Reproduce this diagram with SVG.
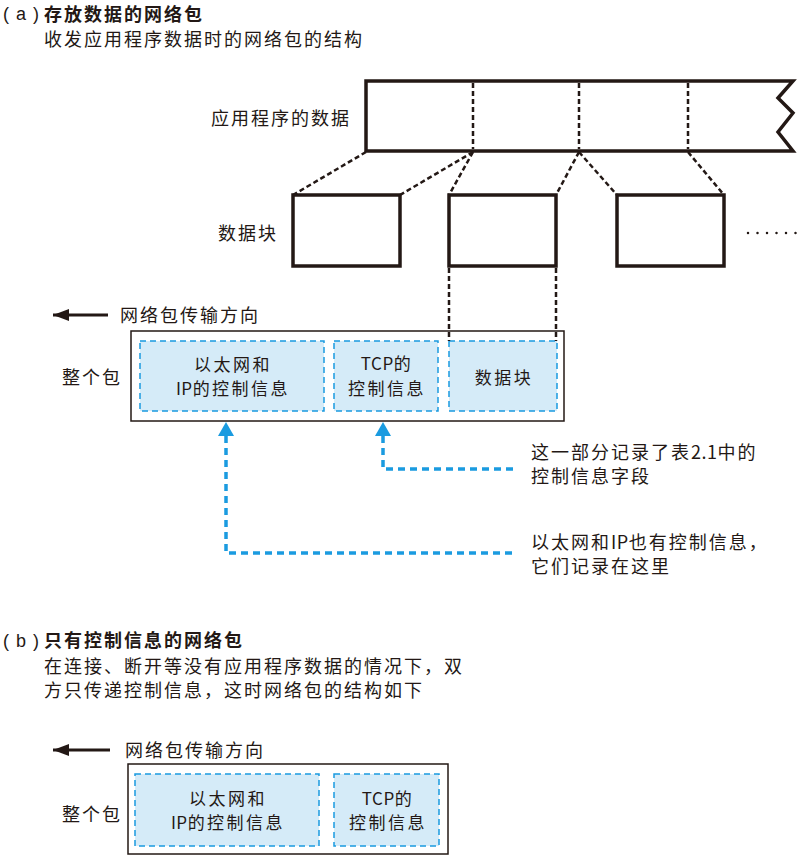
<svg xmlns="http://www.w3.org/2000/svg" width="800" height="856" viewBox="0 0 800 856">
<defs>
<style>
text{font-family:"Noto Sans CJK SC","Noto Sans",sans-serif;fill:#231815;font-size:18px;letter-spacing:2px}
.b{font-weight:bold}
.p{font-family:"Liberation Sans",Arial,sans-serif;letter-spacing:0}
.box{fill:#fff;stroke:#231815;stroke-width:3.5}
.bdash{fill:none;stroke:#231815;stroke-width:2.5;stroke-dasharray:5 3}
.pkt{fill:#fff;stroke:#231815;stroke-width:1.5}
.field{fill:#d5ebf8;stroke:#1a9be0;stroke-width:1.5;stroke-dasharray:6 4}
.blue{fill:none;stroke:#1a9be0;stroke-width:3.5;stroke-dasharray:7 5}
.bt{font-size:17px;letter-spacing:2.5px}
.c{text-anchor:middle}
.l{letter-spacing:0.5px}
</style>
<marker id="ah" viewBox="0 0 16 12" refX="16" refY="6" markerWidth="16" markerHeight="12" markerUnits="userSpaceOnUse" orient="auto">
<path d="M0,0 L16,6 L0,12 Z" fill="#231815"/>
</marker>
</defs>

<g id="title-a">
<text class="p" x="3" y="20">(</text><text class="p" x="16" y="20">a</text><text class="p" x="33" y="20">)</text>
<text class="b" x="44" y="21">存放数据的网络包</text>
<text x="44" y="46" letter-spacing="2.4">收发应用程序数据时的网络包的结构</text>
</g>

<g id="app-data">
<text x="351" y="125" text-anchor="end">应用程序的数据</text>
<path class="box" d="M793,81 L366,81 L366,151 L793,151 L778,132 L793,113 L778,98 Z"/>
<line class="bdash" x1="473" y1="83" x2="473" y2="149"/>
<line class="bdash" x1="579" y1="83" x2="579" y2="149"/>
<line class="bdash" x1="688" y1="83" x2="688" y2="149"/>
</g>

<g id="chunks">
<text x="218" y="240">数据块</text>
<rect class="box" x="293" y="195" width="107" height="71"/>
<rect class="box" x="449" y="195" width="107" height="71"/>
<rect class="box" x="617" y="195" width="107" height="71"/>
<line x1="748" y1="233" x2="796" y2="233" stroke="#231815" stroke-width="2.5" stroke-linecap="round" stroke-dasharray="0 9.5"/>
</g>

<g id="connectors-a">
<line class="bdash" stroke-width="3" x1="366" y1="152" x2="293" y2="195"/>
<line class="bdash" stroke-width="3" x1="473" y1="152" x2="400" y2="195"/>
<line class="bdash" stroke-width="3" x1="473" y1="152" x2="449" y2="195"/>
<line class="bdash" stroke-width="3" x1="579" y1="152" x2="556" y2="195"/>
<line class="bdash" stroke-width="3" x1="579" y1="152" x2="617" y2="195"/>
<line class="bdash" stroke-width="3" x1="688" y1="152" x2="724" y2="195"/>
</g>

<g id="direction-a">
<line x1="108" y1="315" x2="53" y2="315" stroke="#231815" stroke-width="3" marker-end="url(#ah)"/>
<text x="120" y="322">网络包传输方向</text>
</g>

<g id="packet-a">
<text x="62" y="384">整个包</text>
<rect class="pkt" x="131" y="331" width="433" height="90"/>
<g id="eth-ip-a">
<rect class="field" x="140" y="341" width="184" height="70"/>
<text class="bt c" x="233" y="371">以太网和</text>
<text class="bt c" x="233" y="395"><tspan class="l">IP</tspan>的控制信息</text>
</g>
<g id="tcp-a">
<rect class="field" x="334" y="341" width="104" height="70"/>
<text class="bt c" x="387" y="370"><tspan class="l">TCP</tspan>的</text>
<text class="bt c" x="387" y="395">控制信息</text>
</g>
<g id="data-a">
<rect class="field" x="449" y="341" width="108" height="70"/>
<text class="bt c" x="504" y="384">数据块</text>
</g>
</g>

<g id="connectors-b">
<line class="bdash" x1="449" y1="268" x2="449" y2="341"/>
<line class="bdash" x1="556" y1="268" x2="556" y2="341"/>
<path class="blue" d="M383,436 V469 H514"/>
<path d="M383,422 L375,436 L391,436 Z" fill="#1a9be0"/>
<path class="blue" d="M226,436 V553 H514"/>
<path d="M226,422 L218,436 L234,436 Z" fill="#1a9be0"/>
</g>

<g id="notes">
<text x="531" y="459">这一部分记录了表<tspan class="l">2.1</tspan>中的</text>
<text x="531" y="483">控制信息字段</text>
<text x="531" y="549">以太网和<tspan class="l">IP</tspan>也有控制信息，</text>
<text x="531" y="573">它们记录在这里</text>
</g>

<g id="title-b">
<text class="p" x="3" y="647">(</text><text class="p" x="16" y="647">b</text><text class="p" x="33" y="647">)</text>
<text class="b" x="44" y="647">只有控制信息的网络包</text>
<text x="44" y="673">在连接、断开等没有应用程序数据的情况下，双</text>
<text x="44" y="697">方只传递控制信息，这时网络包的结构如下</text>
</g>

<g id="direction-b">
<line x1="110" y1="750" x2="53" y2="750" stroke="#231815" stroke-width="3" marker-end="url(#ah)"/>
<text x="125" y="757">网络包传输方向</text>
</g>

<g id="packet-b">
<text x="62" y="821">整个包</text>
<rect class="pkt" x="128" y="764" width="320" height="90"/>
<g id="eth-ip-b">
<rect class="field" x="135" y="774" width="184" height="72"/>
<text class="bt c" x="228" y="805">以太网和</text>
<text class="bt c" x="228" y="829"><tspan class="l">IP</tspan>的控制信息</text>
</g>
<g id="tcp-b">
<rect class="field" x="334" y="774" width="105" height="72"/>
<text class="bt c" x="388" y="805"><tspan class="l">TCP</tspan>的</text>
<text class="bt c" x="388" y="829">控制信息</text>
</g>
</g>
</svg>
